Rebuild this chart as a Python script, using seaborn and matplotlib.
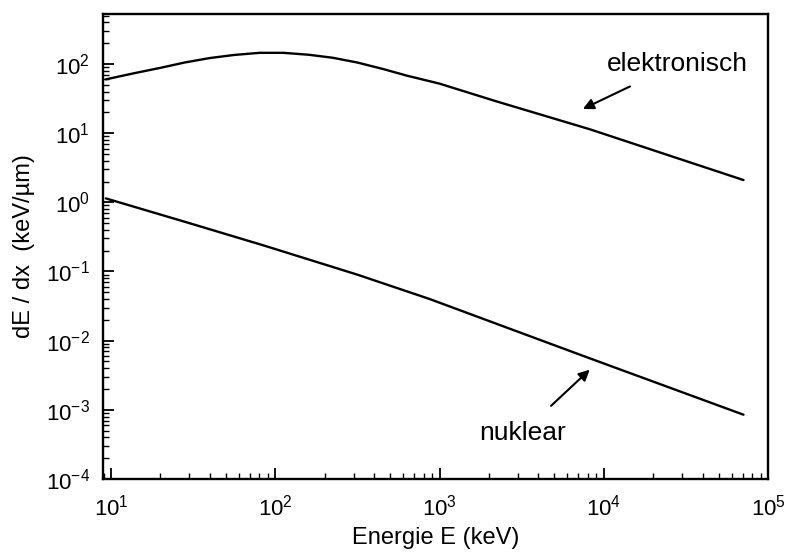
import matplotlib
matplotlib.use("Agg")
import matplotlib.pyplot as plt
import seaborn as sns
import pandas as pd
from matplotlib.ticker import LogLocator, NullFormatter

# --- data ---
energy_el = [9.3, 14, 20, 28, 40, 56, 80, 112, 160, 224, 316, 450, 630, 1000,
             2200, 8200, 70800]
dedx_el = [60, 74, 88, 105, 122, 135, 145, 145, 136, 123, 105, 85, 68, 52,
           29, 11.4, 2.1]

energy_nu = [9.3, 30, 84, 316, 870, 2500, 8200, 70800]
dedx_nu = [1.14, 0.5, 0.24, 0.09, 0.040, 0.0158, 0.00556, 0.00085]

label_el = "elektronisch"
label_nu = "nuklear"
xlabel = "Energie E (keV)"
ylabel = "dE / dx  (keV/µm)"

sns.set_style("ticks")
plt.rcParams["font.family"] = ["Liberation Sans", "DejaVu Sans"]
plt.rcParams["mathtext.fontset"] = "custom"
plt.rcParams["mathtext.rm"] = "Liberation Sans"
plt.rcParams["text.color"] = "black"
plt.rcParams["axes.labelcolor"] = "black"
plt.rcParams["xtick.color"] = "black"
plt.rcParams["ytick.color"] = "black"

df_el = pd.DataFrame({"E": energy_el, "S": dedx_el})
df_nu = pd.DataFrame({"E": energy_nu, "S": dedx_nu})

fig = plt.figure(figsize=(7.87, 5.56), dpi=100)
ax = fig.add_axes([0.1305, 0.1385, 0.8455, 0.8365])

sns.lineplot(data=df_el, x="E", y="S", ax=ax, color="black", lw=1.7, sort=False)
sns.lineplot(data=df_nu, x="E", y="S", ax=ax, color="black", lw=1.7, sort=False)

ax.set_xscale("log")
ax.set_yscale("log")
ax.set_xlim(8.9, 1e5)
ax.set_ylim(1e-4, 530)

ax.xaxis.set_major_locator(LogLocator(base=10, numticks=10))
ax.yaxis.set_major_locator(LogLocator(base=10, numticks=10))
ax.xaxis.set_minor_locator(LogLocator(base=10, subs=range(2, 10), numticks=20))
ax.yaxis.set_minor_locator(LogLocator(base=10, subs=range(2, 10), numticks=20))
ax.xaxis.set_minor_formatter(NullFormatter())
ax.yaxis.set_minor_formatter(NullFormatter())

ax.tick_params(which="major", direction="in", length=8, width=1.3, labelsize=16,
               top=False, right=False, pad=9)
ax.tick_params(axis="x", which="major", pad=11)
ax.tick_params(which="minor", direction="in", length=4, width=1.0,
               top=False, right=False)
for s in ax.spines.values():
    s.set_linewidth(1.7)
    s.set_color("black")

ax.set_xlabel(xlabel, fontsize=17, labelpad=5)
ax.set_ylabel(ylabel, fontsize=17, labelpad=8)

ax.annotate(label_el, xy=(7450, 22.4), xytext=(27900, 100), fontsize=19,
            ha="center", va="center",
            arrowprops=dict(arrowstyle="-|>", color="black", lw=1.5,
                            shrinkA=12, shrinkB=0, mutation_scale=16))
ax.annotate(label_nu, xy=(8200, 0.0038), xytext=(3200, 0.00047), fontsize=19,
            ha="center", va="center",
            arrowprops=dict(arrowstyle="-|>", color="black", lw=1.5,
                            shrinkA=12, shrinkB=0, mutation_scale=16))

fig.savefig("out.png", dpi=100)
